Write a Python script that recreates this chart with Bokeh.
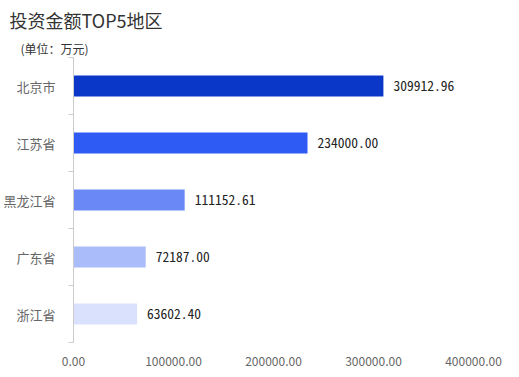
from bokeh.plotting import figure
from bokeh.models import ColumnDataSource, Title, FixedTicker, NumeralTickFormatter, Range1d
from bokeh.core.properties import value
from bokeh.embed import file_html
from bokeh.resources import INLINE

regions = ["北京市", "江苏省", "黑龙江省", "广东省", "浙江省"]
amounts = [309912.96, 234000.00, 111152.61, 72187.00, 63602.40]
x_ticks = [0, 100000, 200000, 300000, 400000]
colors = ["#0b37c9", "#2f5bf5", "#6a89f7", "#aabcf9", "#d9e1fc"]

n = len(regions)
ypos = [n - i - 0.5 for i in range(n)]
src = ColumnDataSource(dict(
    y=ypos, v=amounts, color=colors,
    lbl=[f"{a:.2f}" for a in amounts],
))

FONT = "Noto Sans CJK SC"

p = figure(frame_width=400, frame_height=285,
           x_range=Range1d(0, 400000), y_range=Range1d(0, n),
           output_backend="svg", toolbar_location=None,
           min_border_left=65, min_border_right=38, min_border_top=0, min_border_bottom=26)
p.outline_line_color = None
p.xgrid.visible = False
p.ygrid.visible = False
p.background_fill_color = "white"

p.hbar(y="y", right="v", left=0, height=0.37, fill_color="color", line_color=None, source=src)
p.text(x="v", y="y", text="lbl", source=src, x_offset=10, text_baseline="middle",
       text_align="left", text_font=value("Noto Sans Mono CJK SC"), text_font_size="13.5px",
       text_color="#222222")

# x axis
xa = p.xaxis[0]
xa.ticker = FixedTicker(ticks=x_ticks)
xa.formatter = NumeralTickFormatter(format="0.00")
xa.axis_line_color = None
xa.major_tick_line_color = None
xa.minor_tick_line_color = None
xa.major_label_standoff = 8
xa.major_label_text_font = FONT
xa.major_label_text_font_size = "12px"
xa.major_label_text_color = "#666666"

# y axis
ya = p.yaxis[0]
ya.ticker = FixedTicker(ticks=ypos, minor_ticks=list(range(n + 1)))
ya.major_label_overrides = {y: r for y, r in zip(ypos, regions)}
ya.major_tick_out = 0
ya.major_tick_in = 0
ya.minor_tick_out = 5
ya.minor_tick_in = 0
ya.axis_line_color = "#cccccc"
ya.minor_tick_line_color = "#cccccc"
ya.major_label_standoff = 13
ya.major_label_text_font = FONT
ya.major_label_text_font_size = "13px"
ya.major_label_text_color = "#666666"

p.title = None
p.add_layout(Title(text="(单位：万元)", align="left", offset=-53, standoff=1,
                   text_font=FONT, text_font_size="12px", text_color="#333333",
                   text_font_style="normal"), "above")
p.add_layout(Title(text="投资金额TOP5地区", align="left", offset=-64, standoff=9,
                   text_font=FONT, text_font_size="18px", text_color="#333333",
                   text_font_style="normal"), "above")

open("out.html", "w").write(file_html(p, INLINE))
